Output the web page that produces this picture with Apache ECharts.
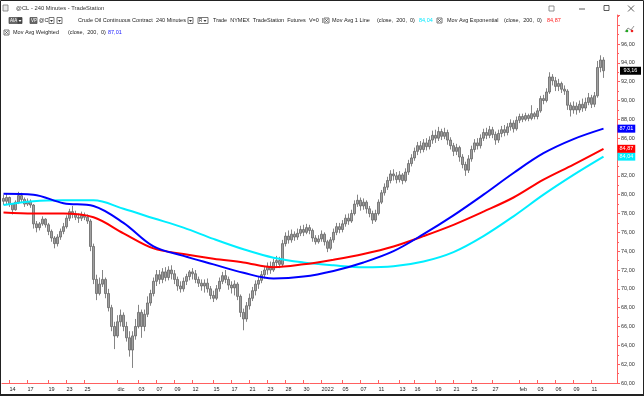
<!DOCTYPE html>
<html><head><meta charset="utf-8">
<script src="https://cdn.jsdelivr.net/npm/echarts@6/dist/echarts.min.js"></script>
<style>html,body{margin:0;padding:0;background:#fff}#c{width:644px;height:396px}</style>
</head><body><div id="c"></div><script>
// ---- data (240-minute bars, @CL) ----
const openVals = [
79.6,79.3,79.7,79.0,78.4,79.2,79.9,79.5,79.0,79.3,
78.9,76.9,76.5,76.9,77.4,76.8,76.1,75.4,74.8,75.5,
76.1,76.6,77.5,78.2,77.9,77.6,77.5,77.8,77.6,77.2,
74.5,71.0,69.5,70.5,71.0,69.5,68.0,66.0,65.0,66.5,
67.2,66.0,64.8,63.5,65.0,66.0,67.5,66.0,67.3,68.5,
69.5,70.8,71.5,71.0,71.8,71.2,72.0,71.6,71.0,70.3,
70.0,70.8,71.3,71.8,71.6,71.0,70.6,70.3,70.6,70.0,
69.3,69.0,70.0,70.8,71.4,71.0,70.4,70.1,70.5,69.2,
67.5,66.8,68.2,69.0,69.8,70.5,70.9,71.5,72.0,72.4,
72.0,72.8,73.0,72.6,74.8,75.6,75.2,75.8,75.5,75.9,
76.3,76.0,76.5,76.2,75.4,75.0,75.3,75.8,75.0,74.3,
75.2,76.0,76.6,76.3,76.9,77.5,77.2,78.0,79.0,79.4,
78.8,79.2,78.5,78.0,77.3,78.0,79.2,80.2,80.8,81.5,
82.2,82.0,81.6,82.1,81.5,82.4,83.3,83.9,84.6,85.2,
84.8,85.5,85.1,85.8,86.3,86.0,86.7,86.2,86.6,85.8,
85.2,84.6,85.0,84.0,83.2,82.6,83.8,84.8,85.5,85.2,
86.0,86.6,86.3,86.9,86.4,85.8,86.5,86.9,86.6,87.2,
87.6,87.0,87.9,88.3,88.0,88.4,88.1,88.6,88.3,88.9,
90.2,90.0,90.9,92.5,92.1,91.5,91.8,91.2,91.0,89.5,
89.0,89.4,89.0,89.6,89.2,89.8,90.3,89.6,90.5,93.5,
94.3];
const closeVals = [
79.3,79.7,79.0,78.4,79.2,79.9,79.5,79.0,79.3,78.9,
76.9,76.5,76.9,77.4,76.8,76.1,75.4,74.8,75.5,76.1,
76.6,77.5,78.2,77.9,77.6,77.5,77.8,77.6,77.2,74.5,
71.0,69.5,70.5,71.0,69.5,68.0,66.0,65.0,66.5,67.2,
66.0,64.8,63.5,65.0,66.0,67.5,66.0,67.3,68.5,69.5,
70.8,71.5,71.0,71.8,71.2,72.0,71.6,71.0,70.3,70.0,
70.8,71.3,71.8,71.6,71.0,70.6,70.3,70.6,70.0,69.3,
69.0,70.0,70.8,71.4,71.0,70.4,70.1,70.5,69.2,67.5,
66.8,68.2,69.0,69.8,70.5,70.9,71.5,72.0,72.4,72.0,
72.8,73.0,72.6,74.8,75.6,75.2,75.8,75.5,75.9,76.3,
76.0,76.5,76.2,75.4,75.0,75.3,75.8,75.0,74.3,75.2,
76.0,76.6,76.3,76.9,77.5,77.2,78.0,79.0,79.4,78.8,
79.2,78.5,78.0,77.3,78.0,79.2,80.2,80.8,81.5,82.2,
82.0,81.6,82.1,81.5,82.4,83.3,83.9,84.6,85.2,84.8,
85.5,85.1,85.8,86.3,86.0,86.7,86.2,86.6,85.8,85.2,
84.6,85.0,84.0,83.2,82.6,83.8,84.8,85.5,85.2,86.0,
86.6,86.3,86.9,86.4,85.8,86.5,86.9,86.6,87.2,87.6,
87.0,87.9,88.3,88.0,88.4,88.1,88.6,88.3,88.9,90.2,
90.0,90.9,92.5,92.1,91.5,91.8,91.2,91.0,89.5,89.0,
89.4,89.0,89.6,89.2,89.8,90.3,89.6,90.5,93.5,94.3,
93.16];
const lowVals = [
78.9,79.0,78.7,77.9,78.3,79.0,79.2,78.7,78.8,78.6,
76.4,76.0,76.2,76.7,76.5,75.7,75.0,74.3,74.5,75.2,
75.8,76.4,77.2,77.5,77.3,77.0,77.2,77.3,76.9,74.0,
70.5,68.8,69.3,70.2,69.0,67.6,65.5,63.6,64.8,66.0,
65.5,64.4,62.8,61.6,64.6,65.8,64.8,65.5,67.0,68.2,
69.2,70.3,70.5,70.6,70.8,70.9,71.0,70.5,69.8,69.6,
69.7,70.4,70.9,71.0,70.6,70.2,69.8,69.6,69.6,68.9,
68.6,68.8,69.7,70.5,70.6,69.9,69.5,69.3,68.8,67.0,
65.6,66.5,67.8,68.7,69.3,70.0,70.6,71.1,71.5,71.6,
71.8,72.3,72.2,72.4,74.5,74.8,74.9,75.1,75.2,75.6,
75.6,75.8,75.8,75.0,74.7,74.8,75.0,74.6,73.9,74.1,
74.9,75.7,75.9,76.0,76.6,76.8,77.0,77.8,78.7,78.3,
78.4,78.0,77.6,76.9,77.1,77.8,79.0,79.9,80.5,81.2,
81.5,81.2,81.3,81.1,81.3,82.1,83.0,83.6,84.2,84.4,
84.5,84.7,84.8,85.4,85.5,85.7,85.8,85.9,85.3,84.8,
84.1,84.2,83.5,82.8,82.0,82.3,83.5,84.5,84.8,84.9,
85.7,85.9,86.0,86.0,85.3,85.5,86.1,86.2,86.3,86.8,
86.6,86.8,87.6,87.7,87.8,87.8,87.9,88.0,88.0,88.7,
89.6,89.8,90.7,91.6,91.0,91.0,90.8,90.6,89.0,88.3,
88.6,88.5,88.7,88.8,88.9,89.5,89.2,89.3,90.3,93.0,
92.4];
const highVals = [
80.0,80.1,79.8,79.1,79.4,80.3,80.2,79.7,79.6,79.5,
79.0,77.2,77.1,77.7,77.5,77.0,76.3,75.6,75.8,76.4,
77.0,77.8,78.5,78.8,78.3,78.0,78.2,78.1,77.9,77.4,
74.8,71.5,71.2,72.0,71.2,70.0,68.3,66.5,67.2,67.8,
67.5,66.5,65.5,65.5,66.8,68.3,67.8,67.8,69.2,69.9,
71.2,72.0,72.0,72.2,72.3,72.4,72.5,72.0,71.3,70.8,
71.2,71.6,72.0,72.2,72.0,71.3,71.0,71.0,71.1,70.3,
69.8,70.4,71.2,71.8,72.0,71.3,70.8,70.9,70.7,69.4,
67.9,68.6,69.5,70.2,70.9,71.3,71.9,72.4,72.8,72.9,
73.2,73.5,73.4,75.2,76.0,76.2,76.3,76.1,76.4,76.7,
76.8,76.9,76.8,76.4,75.7,75.7,76.2,76.0,75.2,75.5,
76.4,77.0,77.0,77.3,77.9,78.0,78.4,79.4,80.0,79.7,
79.6,79.4,78.8,78.3,78.4,79.5,80.5,81.2,81.9,82.6,
82.7,82.4,82.5,82.3,82.8,83.7,84.3,85.0,85.6,85.7,
85.9,86.0,86.2,86.8,86.9,87.2,87.0,87.1,86.9,86.1,
85.5,85.4,85.2,84.3,83.5,84.2,85.2,85.9,86.0,86.4,
87.0,87.1,87.3,87.2,86.7,86.9,87.3,87.4,87.6,88.0,
87.9,88.3,88.6,88.6,88.7,88.6,89.5,88.8,89.2,90.5,
90.6,91.3,93.0,92.8,92.5,92.3,92.0,91.6,91.2,89.8,
89.9,89.8,90.0,90.2,90.3,90.8,90.6,90.9,94.2,94.8,
94.6];
// moving averages sampled every 10 bars
const maIdx = [0,10,20,30,40,50,60,70,80,90,100,110,120,130,140,150,160,170,180,190,200];
const smaVals = [78.9,79.3,79.4,79.4,78.5,77.5,76.5,75.3,74.2,73.3,72.8,72.5,72.3,72.4,72.9,73.9,75.6,77.7,80.0,82.1,84.04];
const emaVals = [78.1,78.0,78.0,77.6,75.9,74.3,73.7,73.2,72.8,72.3,72.6,73.1,73.7,74.5,75.6,76.8,78.2,79.7,81.6,83.2,84.87];
const wmaVals = [80.1,80.0,79.1,78.8,77.0,74.5,73.5,72.6,71.7,71.1,71.3,71.9,72.8,74.0,75.8,77.8,80.0,82.3,84.4,85.9,87.01];
// x-axis tick labels (bar index -> text)
const xLabelIdx = [2,8,15,21,27,38,45,51,57,63,70,76,82,88,94,100,106,113,119,125,132,137,144,150,156,163,172,178,184,190,196];
const xLabelText = ['14','17','19','23','25','dic','03','07','09','12','15','17','21','23','28','30','2022','05','07','11','13','16','19','21','25','27','feb','03','06','09','11'];
const totalSlots = 205;

// ---- build ----
const FONT = 'Liberation Sans, Arial, sans-serif';
const fmt = v => v.toFixed(2).replace('.', ',');
const cats = [];
for (let i = 0; i < totalSlots; i++) cats.push('b' + i);
const labelMap = {};
xLabelIdx.forEach((k, j) => labelMap[k] = xLabelText[j]);
const candles = openVals.map((o, i) => [o, closeVals[i], lowVals[i], highVals[i]]);
function spread(vals) {
  const arr = new Array(openVals.length).fill(null);
  maIdx.forEach((k, j) => arr[k] = vals[j]);
  return arr;
}
function maSeries(name, vals, color) {
  return {
    type: 'line', name, data: spread(vals), connectNulls: true, smooth: 0.35,
    showSymbol: false, symbol: 'none', lineStyle: { color, width: 2 }, itemStyle: { color },
    z: 3,
    endLabel: { show: true, formatter: p => fmt(p.value), backgroundColor: color, color: '#fff',
      fontSize: 5.5, fontFamily: FONT, padding: [1, 2, 1, 2], distance: 14 }
  };
}
const last = closeVals.length - 1;

const G = [];
function txt(x, y, s, color, size, weight) {
  G.push({ type: 'text', x, y, style: { text: s, fill: color || '#222', font: (weight || 'normal') + ' ' + (size || 5.5) + 'px ' + FONT, textVerticalAlign: 'middle' } });
}
function box(x, y, w, h, fill, stroke) {
  G.push({ type: 'rect', shape: { x, y, width: w, height: h }, style: { fill: fill || '#fff', stroke: stroke || '#666', lineWidth: 0.8 } });
}
function tri(x, y, color) {
  G.push({ type: 'polygon', shape: { points: [[x, y], [x + 3, y], [x + 1.5, y + 2]] }, style: { fill: color || '#333' } });
}
function xbox(x, y) {
  box(x, y, 5, 5, '#fff', '#555');
  G.push({ type: 'polyline', shape: { points: [[x + 1.2, y + 1.2], [x + 3.8, y + 3.8]] }, style: { stroke: '#333', lineWidth: 0.7 } });
  G.push({ type: 'polyline', shape: { points: [[x + 3.8, y + 1.2], [x + 1.2, y + 3.8]] }, style: { stroke: '#333', lineWidth: 0.7 } });
}
// window frame
G.push({ type: 'rect', shape: { x: 0.5, y: 0.5, width: 643, height: 394.5 }, style: { fill: 'none', stroke: '#222', lineWidth: 1 } });
G.push({ type: 'line', shape: { x1: 0, y1: 395, x2: 644, y2: 395 }, style: { stroke: '#222', lineWidth: 2 } });
// title bar
box(3, 5, 5, 6, '#e8e8e8', '#777');
txt(16, 8.5, '@CL - 240 Minutes - TradeStation', '#333', 5.8);
box(549, 6, 5, 5, '#fff', '#777');
G.push({ type: 'line', shape: { x1: 579, y1: 9, x2: 585, y2: 9 }, style: { stroke: '#333', lineWidth: 0.8 } });
box(604, 5.5, 5, 5, '#fff', '#333');
G.push({ type: 'line', shape: { x1: 628, y1: 5.5, x2: 634, y2: 11.5 }, style: { stroke: '#333', lineWidth: 0.8 } });
G.push({ type: 'line', shape: { x1: 634, y1: 5.5, x2: 628, y2: 11.5 }, style: { stroke: '#333', lineWidth: 0.8 } });
// legend line 1
box(9, 17.5, 9, 6, '#666', '#555'); txt(10, 20.7, 'AIA', '#fff', 4.5);
box(18, 17.5, 4, 6, '#444', '#444'); tri(18.5, 20, '#fff');
box(30, 17.5, 7, 6, '#666', '#555'); txt(31, 20.7, 'VP', '#fff', 4.5);
txt(39, 20.7, '@CL', '#222');
box(49, 17.5, 5, 6, '#fff', '#555'); tri(50, 20);
box(57, 17.5, 5, 6, '#fff', '#555'); tri(58, 20);
txt(78, 20.7, 'Crude Oil Continuous Contract  240 Minutes', '#222');
box(188, 17.5, 5, 6, '#fff', '#555'); tri(189, 20);
box(198, 17.5, 10, 6, '#fff', '#555'); txt(199, 20.7, 'R', '#222', 4.5); tri(203.5, 20);
txt(213, 20.7, 'Trade  NYMEX  TradeStation  Futures  V=0  |', '#222');
xbox(324, 18);
txt(332, 20.7, 'Mov Avg 1 Line', '#222');
txt(377, 20.7, '(close,  200,  0)', '#222');
txt(419, 20.7, fmt(smaVals[smaVals.length - 1]), '#00e8ff');
xbox(437, 18);
txt(447, 20.7, 'Mov Avg Exponential', '#222');
txt(504, 20.7, '(close,  200,  0)', '#222');
txt(547, 20.7, fmt(emaVals[emaVals.length - 1]), '#ff2020');
// legend line 2
xbox(4, 30);
txt(13, 32.7, 'Mov Avg Weighted', '#222');
txt(68, 32.7, '(close,  200,  0)', '#222');
txt(108, 32.7, fmt(wmaVals[wmaVals.length - 1]), '#2020ff');
// small icon at top of price axis
G.push({ type: 'polyline', shape: { points: [[625, 32], [628, 28], [631, 30], [634, 26]] }, style: { stroke: '#777', lineWidth: 0.8 } });
G.push({ type: 'circle', shape: { cx: 627, cy: 31, r: 1.3 }, style: { fill: '#2a2' } });
G.push({ type: 'circle', shape: { cx: 632, cy: 31, r: 1.3 }, style: { fill: '#e22' } });

const chart = echarts.init(document.getElementById('c'), null, { renderer: 'canvas' });
chart.setOption({
  animation: false,
  backgroundColor: '#fff',
  grid: { left: 2, right: 27, top: 15, bottom: 13, containLabel: false },
  xAxis: {
    type: 'category', data: cats, boundaryGap: true,
    axisLine: { lineStyle: { color: '#ff6060', width: 1 } },
    axisTick: { show: true, inside: true, length: 3, alignWithLabel: true, lineStyle: { color: '#ff6060' },
      interval: (i) => labelMap[i] !== undefined },
    axisLabel: { interval: 0, formatter: (v, i) => labelMap[i] || '', align: 'left', margin: 3,
      fontSize: 5.5, fontFamily: FONT, color: '#222' },
    splitLine: { show: false }
  },
  yAxis: {
    type: 'value', position: 'right', min: 60, max: 99.08, interval: 2, scale: false,
    axisLine: { show: true, lineStyle: { color: '#ff6060', width: 1 } },
    axisTick: { show: true, length: 3, lineStyle: { color: '#ff6060' } },
    minorTick: { show: true, splitNumber: 2, length: 2, lineStyle: { color: '#ff6060' } },
    axisLabel: { formatter: v => v > 97 ? '' : fmt(v), margin: 4, fontSize: 5.5, fontFamily: FONT, color: '#333' },
    splitLine: { show: false }
  },
  series: [
    {
      type: 'candlestick', name: '@CL', data: candles, barWidth: 1.6, z: 2,
      itemStyle: { color: '#a0a0a0', color0: '#a0a0a0', borderColor: '#666', borderColor0: '#666', borderWidth: 0.8 },
      markPoint: {
        symbol: 'rect', symbolSize: [21, 8], symbolOffset: [27, 0],
        itemStyle: { color: '#000' },
        label: { show: true, position: 'inside', color: '#fff', fontSize: 5.5, fontFamily: FONT, formatter: p => fmt(p.value) },
        data: [{ coord: [last, closeVals[last]], value: closeVals[last] }]
      }
    },
    maSeries('Mov Avg 1 Line', smaVals, '#00eeff'),
    maSeries('Mov Avg Exponential', emaVals, '#ff0000'),
    maSeries('Mov Avg Weighted', wmaVals, '#0000ff')
  ],
  graphic: G
});
</script></body></html>
